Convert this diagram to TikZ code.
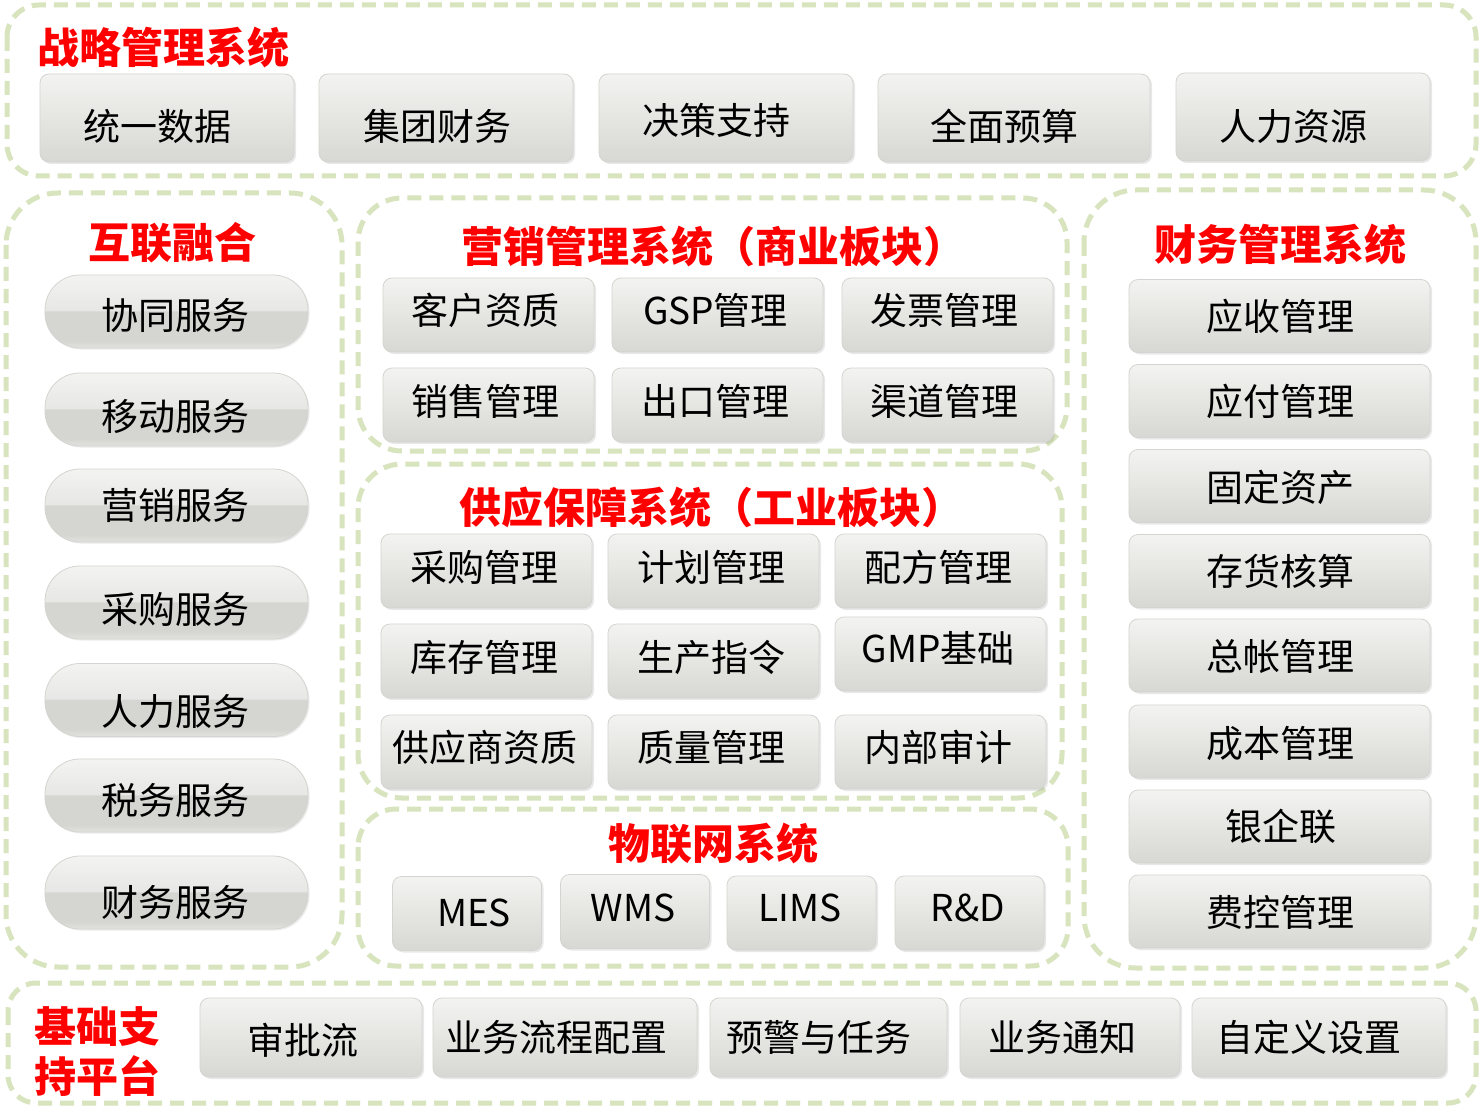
\documentclass[tikz,border=0pt]{standalone}
\usepackage{fontspec}
\setmainfont{Noto Sans CJK SC}
\usetikzlibrary{shadows}
\definecolor{grpgreen}{HTML}{D7E4BD}
\definecolor{boxtop}{HTML}{F3F3F1}
\definecolor{boxmid}{HTML}{E7E7E4}
\definecolor{boxbot}{HTML}{D7D7D3}
\definecolor{boxedge}{HTML}{D4D4D0}
\definecolor{piltop}{HTML}{F3F3F1}
\definecolor{pilup}{HTML}{E7E7E5}
\definecolor{pillow}{HTML}{D5D5D1}
\definecolor{pilbot}{HTML}{E2E2DF}
\definecolor{hdrred}{HTML}{FF0000}
\pgfdeclareverticalshading{pillshade}{100bp}{color(0bp)=(pilbot); color(25bp)=(pilbot); color(30bp)=(pillow); color(50bp)=(pillow); color(51bp)=(pilup); color(75bp)=(piltop); color(100bp)=(piltop)}
\newcommand\tx[3]{\hspace*{#1pt}\hspace*{#1pt}\raisebox{-#2pt}{#3}}
\begin{document}
\begin{tikzpicture}[x=1pt,y=-1pt,
  grp/.style={draw=grpgreen, line width=5pt, dash pattern=on 14pt off 8pt},
  hdr/.style={text=hdrred, font=\bfseries\fontsize{42}{50}\selectfont, inner sep=0pt, text height=37pt, text depth=5pt},
  hdrml/.style={text=hdrred, font=\bfseries\fontsize{42}{50}\selectfont, inner sep=0pt, align=center},
  sbox/.style={rounded corners=9pt, top color=boxtop, middle color=boxmid, bottom color=boxbot, draw=boxedge, line width=0.8pt,
     inner sep=0pt, font=\fontsize{37}{44}\selectfont, text height=32pt, text depth=4pt,
     drop shadow={opacity=0.18, shadow xshift=2pt, shadow yshift=-2pt}},
  pill/.style={shading=pillshade, draw=boxedge, line width=0.8pt, rounded corners=35pt,
     minimum width=263pt, minimum height=73pt,
     inner sep=0pt, font=\fontsize{37}{44}\selectfont, text height=32pt, text depth=4pt,
     drop shadow={opacity=0.15, shadow xshift=1.5pt, shadow yshift=-1.5pt}},
]
\fill[white] (0,0) rectangle (1480,1107);
\useasboundingbox (0,0) rectangle (1480,1107);

% containers
\draw[grp, rounded corners=32pt] (7,5) rectangle (1476,176);
\draw[grp, rounded corners=52pt] (6,193) rectangle (342,967);
\draw[grp, rounded corners=44pt] (358,198) rectangle (1067,451);
\draw[grp, rounded corners=44pt] (358,464) rectangle (1062,798);
\draw[grp, rounded corners=38pt] (358,809) rectangle (1068,966);
\draw[grp, rounded corners=52pt] (1084,190) rectangle (1476,968);
\draw[grp, rounded corners=28pt] (8,983) rectangle (1476,1103);

% headers
\node[hdr] (h1) at (163,48) {战略管理系统};
\node[hdr] (h2) at (172,243) {互联融合};
\node[hdr] (h3) at (713,247) {营销管理系统（商业板块）};
\node[hdr] (h4) at (711,507) {供应保障系统（工业板块）};
\node[hdr] (h5) at (713,843) {物联网系统};
\node[hdr] (h6) at (1280,245) {财务管理系统};
\node[hdrml] (h7) at (97,1052) {基础支\\持平台};

% top row
\begin{scope}[every node/.append style={minimum height=88pt}]
\node[sbox, minimum width=254pt] (s1) at (167,118) {\tx{-10}{9}{统一数据}};
\node[sbox, minimum width=254pt] (s2) at (446,118) {\tx{-9}{9}{集团财务}};
\node[sbox, minimum width=254pt] (s3) at (726,118) {\tx{-10}{3}{决策支持}};
\node[sbox, minimum width=272pt] (s4) at (1014,118) {\tx{-10}{9}{全面预算}};
\node[sbox, minimum width=254pt] (s5) at (1303,117) {\tx{-10}{10}{人力资源}};
\end{scope}

% left pills
\node[pill] (l1) at (176.5,311.5) {\tx{-1.5}{4}{协同服务}};
\node[pill] (l2) at (176.5,409.5) {\tx{-1.5}{7}{移动服务}};
\node[pill] (l3) at (176.5,505.5) {\tx{-1.5}{0}{营销服务}};
\node[pill] (l4) at (176.5,602.5) {\tx{-1.5}{7}{采购服务}};
\node[pill] (l5) at (176.5,700) {\tx{-1.5}{11}{人力服务}};
\node[pill] (l6) at (176.5,795.5) {\tx{-1.5}{4.5}{税务服务}};
\node[pill] (l7) at (176.5,892.5) {\tx{-1.5}{10}{财务服务}};

% marketing
\begin{scope}[every node/.append style={minimum width=211pt, minimum height=74pt}]
\node[sbox] (m1) at (488.5,315) {\tx{-3.5}{-5}{客户资质}};
\node[sbox] (m2) at (717.5,315) {\tx{-2}{-5}{GSP管理}};
\node[sbox] (m3) at (947.5,315) {\tx{-3.5}{-5}{发票管理}};
\node[sbox] (m4) at (488.5,405) {\tx{-3.5}{-4}{销售管理}};
\node[sbox] (m5) at (717.5,405) {\tx{-2}{-4}{出口管理}};
\node[sbox] (m6) at (947.5,405) {\tx{-3.5}{-4}{渠道管理}};
% supply
\node[sbox] (p1) at (486.5,571) {\tx{-2.5}{-4}{采购管理}};
\node[sbox] (p2) at (713.5,571) {\tx{-2.5}{-4}{计划管理}};
\node[sbox] (p3) at (940.5,571) {\tx{-2.5}{-4}{配方管理}};
\node[sbox] (p4) at (486.5,661) {\tx{-2.5}{-4}{库存管理}};
\node[sbox] (p5) at (713.5,661) {\tx{-2.5}{-4}{生产指令}};
\node[sbox] (p6) at (940.5,654) {\tx{-2.5}{-6}{GMP基础}};
\node[sbox] (p7) at (486.5,752) {\tx{-1.5}{-5}{供应商资质}};
\node[sbox] (p8) at (713.5,752) {\tx{-2.5}{-5}{质量管理}};
\node[sbox] (p9) at (940.5,752) {\tx{-2.5}{-5}{内部审计}};
\end{scope}

% IoT
\begin{scope}[every node/.append style={minimum width=149pt, minimum height=74pt}]
\node[sbox] (i1) at (467,913.5) {\tx{7}{-1.5}{MES}};
\node[sbox] (i2) at (635,911.5) {\tx{-2}{-4.5}{WMS}};
\node[sbox] (i3) at (801.5,913) {\tx{-1.5}{-6}{LIMS}};
\node[sbox] (i4) at (969.5,913) {\tx{-1.5}{-6}{R\&D}};
\end{scope}

% finance
\begin{scope}[every node/.append style={minimum width=301pt, minimum height=73pt}]
\node[sbox] (f1) at (1279.5,316) {\tx{1}{1}{应收管理}};
\node[sbox] (f2) at (1279.5,401) {\tx{1}{0}{应付管理}};
\node[sbox] (f3) at (1279.5,486) {\tx{1}{1}{固定资产}};
\node[sbox] (f4) at (1279.5,571) {\tx{1}{0}{存货核算}};
\node[sbox] (f5) at (1279.5,655.5) {\tx{1}{1}{总帐管理}};
\node[sbox] (f6) at (1279.5,741.5) {\tx{1}{1.5}{成本管理}};
\node[sbox] (f7) at (1279.5,826.5) {\tx{1}{0}{银企联}};
\node[sbox] (f8) at (1279.5,911.5) {\tx{1}{1}{费控管理}};
\end{scope}

% bottom
\begin{scope}[every node/.append style={minimum height=79pt}]
\node[sbox, minimum width=222pt] (b1) at (311,1037.5) {\tx{-8.5}{2.5}{审批流}};
\node[sbox, minimum width=264pt] (b2) at (565,1037.5) {\tx{-9}{0}{业务流程配置}};
\node[sbox, minimum width=237pt] (b3) at (828.5,1037.5) {\tx{-9.5}{0}{预警与任务}};
\node[sbox, minimum width=220pt] (b4) at (1070,1037.5) {\tx{-8}{0}{业务通知}};
\node[sbox, minimum width=254pt] (b5) at (1319,1037.5) {\tx{-10}{0}{自定义设置}};
\end{scope}
\end{tikzpicture}
\end{document}
